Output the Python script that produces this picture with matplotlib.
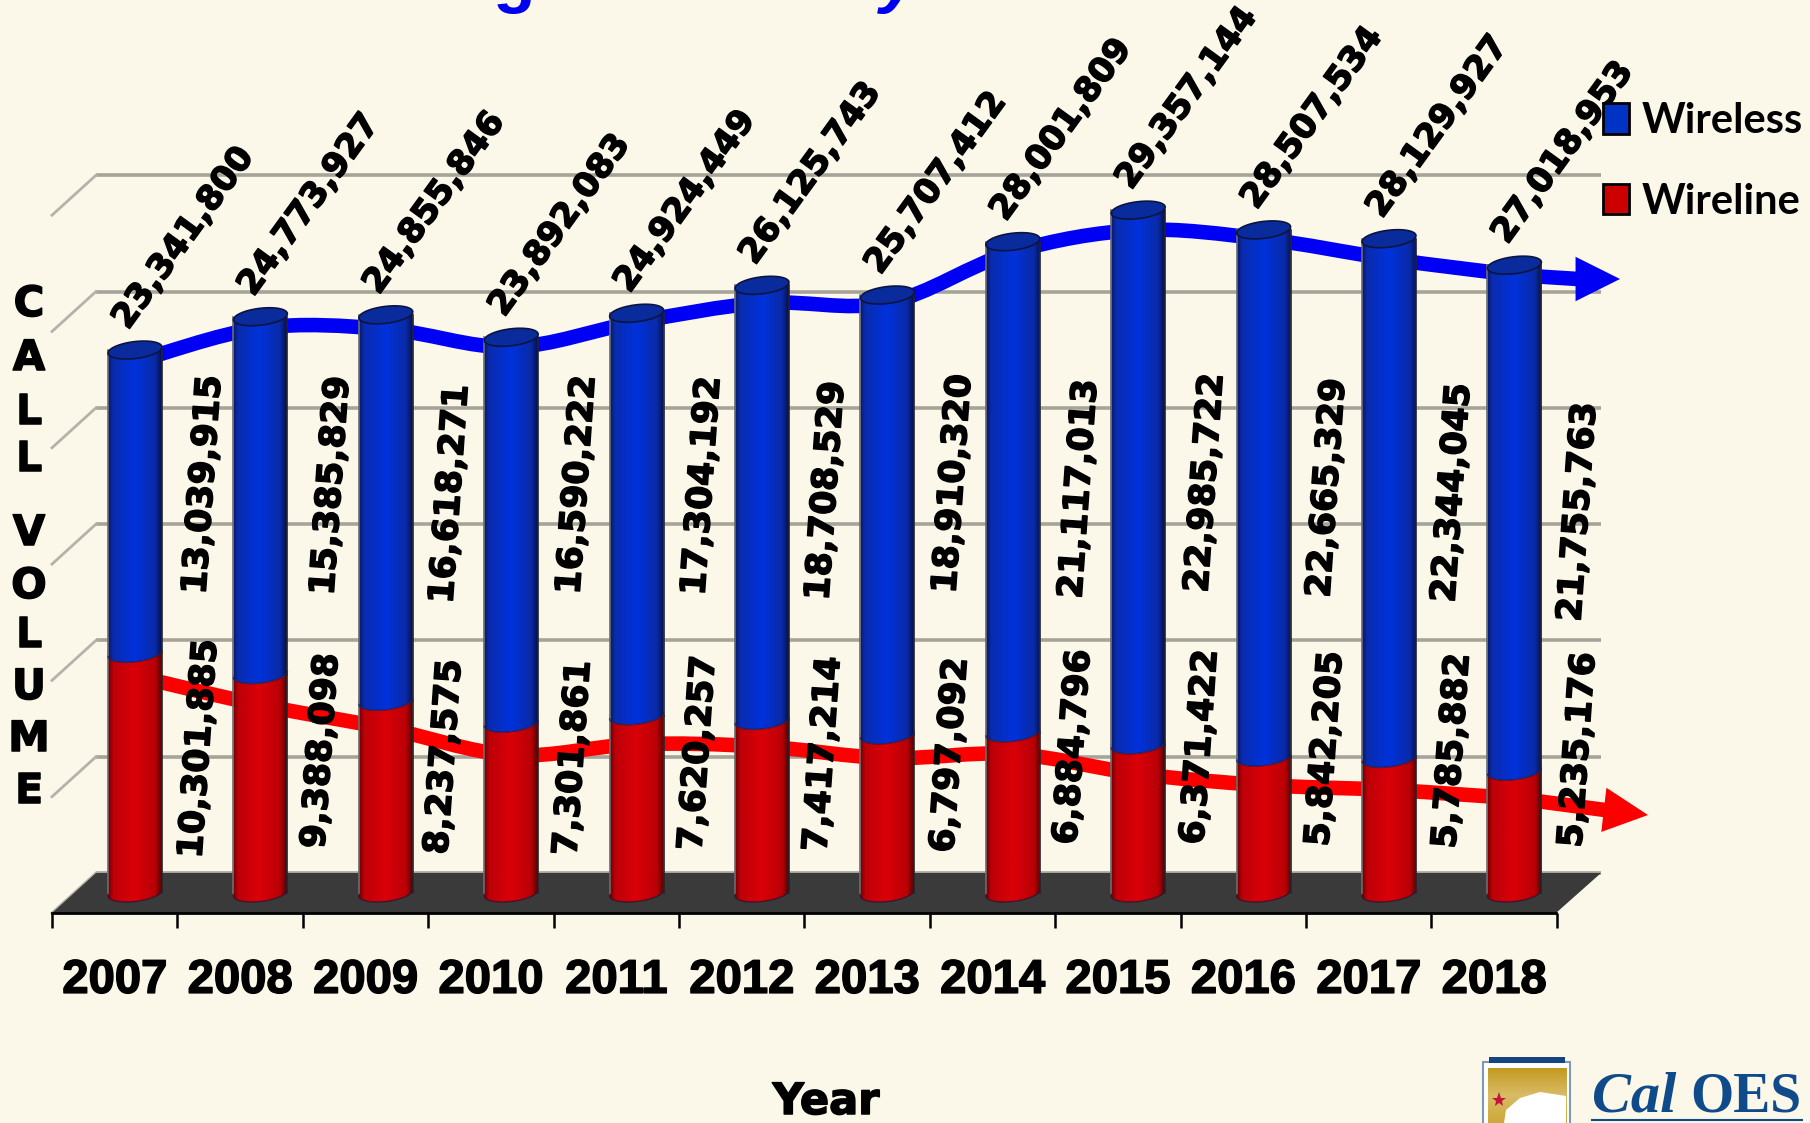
import numpy as np
import matplotlib
matplotlib.use('Agg')
import matplotlib.pyplot as plt
import matplotlib.patheffects as pe
from matplotlib.path import Path
from matplotlib.patches import PathPatch, Patch, Rectangle, Polygon
from matplotlib.colors import LinearSegmentedColormap

years = [2007, 2008, 2009, 2010, 2011, 2012, 2013, 2014, 2015, 2016, 2017, 2018]
wireless = [13039915, 15385829, 16618271, 16590222, 17304192, 18708529,
            18910320, 21117013, 22985722, 22665329, 22344045, 21755763]
wireline = [10301885, 9388098, 8237575, 7301861, 7620257, 7417214,
            6797092, 6884796, 6371422, 5842205, 5785882, 5235176]
totals = [23341800, 24773927, 24855846, 23892083, 24924449, 26125743,
          25707412, 28001809, 29357144, 28507534, 28129927, 27018953]
grid_levels = [0, 5000000, 10000000, 15000000, 20000000, 25000000, 30000000]

# the two arrows are not drawn at the bar heights, read them off on their own
wireless_trend = [22.83e6, 24.29e6, 24.25e6, 23.47e6, 24.55e6, 25.37e6,
                  25.37e6, 27.56e6, 28.50e6, 28.12e6, 27.26e6, 26.57e6]
wireline_trend = [9.33e6, 8.08e6, 7.09e6, 5.93e6, 6.40e6, 6.30e6,
                  5.80e6, 5.98e6, 5.12e6, 4.64e6, 4.43e6, 4.08e6]

# label layout, in pixels of the final picture
wireless_label_x = [203, 331, 450, 577, 702, 826, 953, 1079, 1205, 1327, 1452, 1578]
wireless_label_y = [485, 486, 494, 485, 486, 491, 484, 489, 483, 488, 493, 512]
wireline_label_x = [199, 321, 444, 573, 698, 823, 950, 1073, 1200, 1325, 1452, 1578]
wireline_label_y = [749, 751, 757, 758, 753, 754, 755, 747, 747, 749, 751, 750]

W, H = 1810, 1123
BG = '#fbf7e9'
PX_X = 125.4          # pixels per year
X0 = 135              # pixel of the 2007 bar
Y0 = 893              # pixel of value zero
PX_Y = 23.26 / 1e6    # pixels per call
DEPTH = 20            # half depth of the floor, pixels
HEAVY = [pe.withStroke(linewidth=1.1, foreground='black')]


def dx(px):
    return px / PX_X


def dy(px):
    return px / PX_Y


fig = plt.figure(figsize=(W / 100, H / 100), dpi=100, facecolor=BG)
ax = fig.add_axes([0, 0, 1, 1], facecolor='none')
pix = fig.add_axes([0, 0, 1, 1], facecolor='none', zorder=5)
pix.set_xlim(0, W)
pix.set_ylim(H, 0)
pix.axis('off')

# back wall grid and the slanted part at the left
for level in grid_levels:
    ax.plot([dx(96 - X0), dx(1601 - X0)], [level + dy(DEPTH)] * 2,
            color='#a6a399', lw=2.6, zorder=1, solid_capstyle='butt')
    ax.plot([dx(52 - X0), dx(96 - X0)], [level - dy(DEPTH), level + dy(DEPTH)],
            color='#b4b2aa', lw=2, zorder=1)

# floor
ax.add_patch(Polygon([(dx(52 - X0), -dy(DEPTH)), (dx(1556 - X0), -dy(DEPTH)),
                      (dx(1601 - X0), dy(DEPTH)), (dx(96 - X0), dy(DEPTH))],
                     facecolor='#3a3a3a', edgecolor='none', zorder=2))


def px_point(px, py):
    return dx(px - X0), (Y0 - py) / PX_Y


def trend(values, base_px, tip_px, color):
    xs = list(range(len(values)))
    ys = values
    # curve through the yearly values, Catmull-Rom handles
    verts = [(xs[0], ys[0])]
    codes = [Path.MOVETO]
    for i in range(len(xs) - 1):
        x_a = xs[max(i - 1, 0)]
        y_a = ys[max(i - 1, 0)]
        x_b = xs[min(i + 2, len(xs) - 1)]
        y_b = ys[min(i + 2, len(xs) - 1)]
        verts.append((xs[i] + (xs[i + 1] - x_a) / 6, ys[i] + (ys[i + 1] - y_a) / 6))
        verts.append((xs[i + 1] - (x_b - xs[i]) / 6, ys[i + 1] - (y_b - ys[i]) / 6))
        verts.append((xs[i + 1], ys[i + 1]))
        codes += [Path.CURVE4] * 3
    base = px_point(*base_px)
    verts.append(base)
    codes.append(Path.LINETO)
    ax.add_patch(PathPatch(Path(verts, codes), fill=False, edgecolor=color, lw=10.5,
                           capstyle='butt', zorder=3))
    ax.annotate('', xy=px_point(*tip_px), xytext=base,
                arrowprops=dict(arrowstyle='-|>,head_length=32,head_width=16', mutation_scale=1,
                                color=color, lw=0, shrinkA=0, shrinkB=0),
                zorder=3)


trend(wireless_trend, (1578, 279), (1620, 279), '#0000f4')
trend(wireline_trend, (1605, 810), (1648, 815), '#fc0000')

blue_map = LinearSegmentedColormap.from_list('b', [(0, '#07196a'), (0.09, '#0a2cae'), (0.5, '#0032dc'),
                                                   (0.88, '#0a2aa6'), (1, '#04104e')])
red_map = LinearSegmentedColormap.from_list('r', [(0, '#700000'), (0.09, '#bd0008'), (0.5, '#da0008'),
                                                  (0.88, '#b80006'), (1, '#560000')])
shade = np.linspace(0, 1, 64).reshape(1, -1)


def arc(x, y, start, stop):
    # part of the cylinder's ellipse, tipped up a little on the right
    t = np.linspace(start, stop, 40)
    return np.column_stack([x + dx(27) * np.cos(t), y + dy(8.5) * np.sin(t) + dy(3) * np.cos(t)])


def cylinder(x, y0, y1, cmap):
    front = arc(x, y0, np.pi, 2 * np.pi)
    back = arc(x, y1, 2 * np.pi, np.pi)
    outline = np.vstack([front, back])
    im = ax.imshow(shade, cmap=cmap, aspect='auto', origin='lower', zorder=4,
                   extent=(x - dx(27), x + dx(27), y0 - dy(14), y1 + dy(14)))
    im.set_clip_path(PathPatch(Path(outline), transform=ax.transData))
    ax.plot(front[:, 0], front[:, 1], color='#2a1030', lw=1, alpha=0.7, zorder=4.5)
    ax.plot([x - dx(27)] * 2, [y0, y1], color='#6c6c72', lw=1.2, zorder=4.5)
    ax.plot([x + dx(27)] * 2, [y0, y1], color='#24242c', lw=1.2, zorder=4.5)


for i in range(len(years)):
    cylinder(i, 0, wireline[i], red_map)
    cylinder(i, wireline[i], wireline[i] + wireless[i], blue_map)
    top = wireline[i] + wireless[i]
    cap = arc(i, top, 0, 2 * np.pi)
    ax.fill(cap[:, 0], cap[:, 1], facecolor='#0a2b9c', edgecolor='#0c1440', lw=1.2, zorder=4.6)

# x axis
ax.set_xlim(-X0 / PX_X, (W - X0) / PX_X)
ax.set_ylim(-(H - Y0) / PX_Y, Y0 / PX_Y)
ax.yaxis.set_visible(False)
for side in ['top', 'left', 'right']:
    ax.spines[side].set_visible(False)
ax.spines['bottom'].set_position(('data', -dy(DEPTH)))
ax.spines['bottom'].set_bounds(dx(52 - X0), dx(1556 - X0))
ax.spines['bottom'].set_linewidth(2)
ax.spines['bottom'].set_zorder(6)
ax.set_xticks([dx(52 - X0) + i for i in range(len(years) + 1)])
ax.set_xticklabels([])
ax.tick_params(axis='x', which='major', length=11, width=1.8, color='black')
ax.set_xticks([i - 0.16 for i in range(len(years))], minor=True)
labels = ax.set_xticklabels([str(y) for y in years], minor=True, family='Liberation Sans',
                            weight='bold', fontsize=34)
for t in labels:
    t.set_path_effects(HEAVY)
ax.tick_params(axis='x', which='minor', length=0, pad=33)

# value labels
for i in range(len(years)):
    ax.annotate(f'{totals[i]:,}', xy=(i, totals[i]), xytext=(-1, 11), textcoords='offset points',
                rotation=54, rotation_mode='anchor', ha='left', va='bottom',
                fontsize=24.5, weight='bold', zorder=7, path_effects=HEAVY)
    pix.text(wireless_label_x[i], wireless_label_y[i], f'{wireless[i]:,}', rotation=86,
             ha='center', va='center', fontsize=25, weight='bold', path_effects=HEAVY)
    pix.text(wireline_label_x[i], wireline_label_y[i], f'{wireline[i]:,}', rotation=86,
             ha='center', va='center', fontsize=25, weight='bold', path_effects=HEAVY)

# side title, one letter at a time
for letter, y in zip('CALLVOLUME', [304, 358, 412, 459, 533, 586, 635, 687, 739, 791]):
    pix.text(29, y, letter, ha='center', va='center', fontsize=30, weight='bold', path_effects=HEAVY)
pix.text(826, 1102, 'Year', ha='center', va='center', fontsize=31, weight='bold', path_effects=HEAVY)

# what is left of the cut off heading
pix.text(492, 0, 'g', color='#0000f0', ha='left', va='baseline', fontsize=50, weight='bold',
         family='Liberation Sans', clip_on=False)
pix.text(880, 0, 'y', color='#0000f0', ha='left', va='baseline', fontsize=50, weight='bold',
         style='italic', family='Liberation Sans', clip_on=False)

handles = [Patch(facecolor='#0033c4', edgecolor='black', lw=2, label='Wireless'),
           Patch(facecolor='#cc0000', edgecolor='black', lw=2, label='Wireline')]
pix.legend(handles=handles, loc='upper left', bbox_to_anchor=(1603 / W, 1 - 102 / H), frameon=False,
           borderpad=0, borderaxespad=0, handlelength=0.62, handleheight=0.74, handletextpad=0.3,
           labelspacing=1.02, prop={'family': 'Lato', 'weight': 'bold', 'size': 30})

# logo
pix.add_patch(Rectangle((1483, 1062), 87, 70, facecolor='white', edgecolor='#7f97b8', lw=1.5))
pix.add_patch(Rectangle((1489, 1057), 76, 6, facecolor='#14457f', edgecolor='none'))
gold = np.linspace(0, 1, 32).reshape(-1, 1)
gold_map = LinearSegmentedColormap.from_list('g', ['#c49a22', '#d8bc66', '#cfa83a'])
pix.imshow(gold, cmap=gold_map, aspect='auto', extent=(1488, 1566, 1123, 1068), zorder=2)
pix.add_patch(Polygon([(1504, 1123), (1506, 1110), (1520, 1098), (1540, 1092), (1566, 1096), (1566, 1123)],
                      facecolor='white', edgecolor='none', zorder=3))
pix.plot([1499], [1100], marker='*', color='#c2173a', ms=11, mew=0, zorder=3)
pix.text(1592, 1112, 'Cal', family='Liberation Serif', style='italic', weight='bold', fontsize=42,
         color='#0f4a8a', ha='left', va='baseline')
pix.text(1690, 1112, 'OES', family='Liberation Serif', weight='bold', fontsize=40,
         color='#0f4a8a', ha='left', va='baseline')
pix.plot([1592, 1802], [1120, 1120], color='#0f4a8a', lw=1.5)
pix.set_xlim(0, W)
pix.set_ylim(H, 0)

fig.savefig('out.png', dpi=100, facecolor=BG)
